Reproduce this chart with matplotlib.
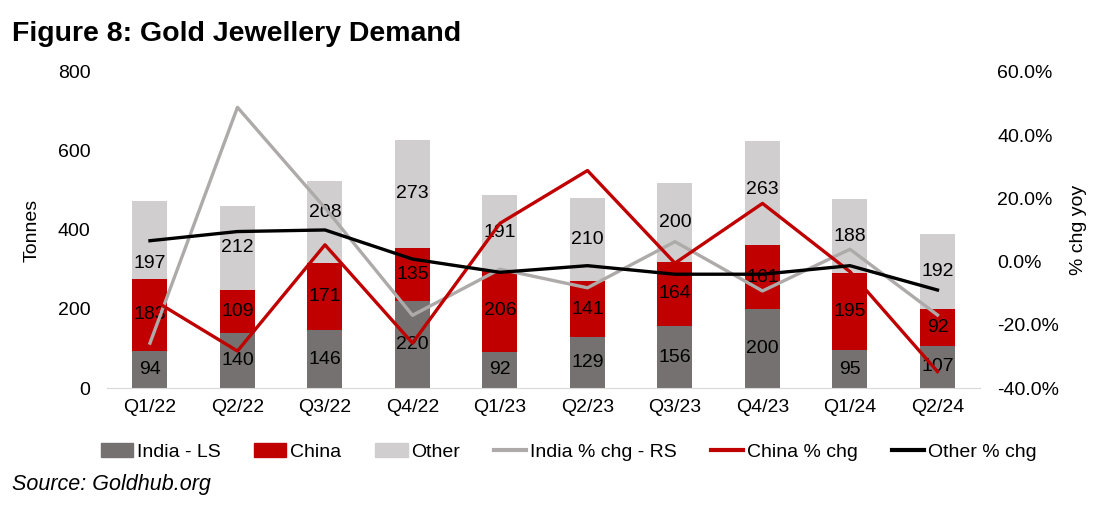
import numpy as np
import matplotlib.pyplot as plt
from matplotlib.lines import Line2D
from matplotlib.patches import Patch

plt.rcParams['font.family'] = ['Liberation Sans', 'DejaVu Sans']

quarters = ['Q1/22', 'Q2/22', 'Q3/22', 'Q4/22', 'Q1/23', 'Q2/23', 'Q3/23', 'Q4/23', 'Q1/24', 'Q2/24']
india = [94, 140, 146, 220, 92, 129, 156, 200, 95, 107]
china = [183, 109, 171, 135, 206, 141, 164, 161, 195, 92]
other = [197, 212, 208, 273, 191, 210, 200, 263, 188, 192]
india_chg = [-25.8, 48.8, 17.0, -17.0, -2.4, -8.3, 6.3, -9.3, 3.9, -16.9]
china_chg = [-11.5, -28.3, 5.3, -25.8, 12.1, 28.8, -0.5, 18.4, -3.2, -34.8]
other_chg = [6.6, 9.5, 10.0, 0.8, -3.4, -1.3, -4.0, -4.0, -1.3, -9.0]

# a few "Other" labels were nudged in the original to avoid the lines
other_label_shift = [-60, 0, 22, 0, 0, 0, 0, 11, 0, 0]

c_india = '#767171'
c_china = '#C00000'
c_other = '#D0CECE'
c_india_line = '#AEAAAA'

fig = plt.figure(figsize=(11.04, 5.09), dpi=100)
ax = fig.add_axes([0.097, 0.2377, 0.791, 0.621])
x = np.arange(len(quarters))
w = 0.4
india_a = np.array(india)
china_a = np.array(china)
other_a = np.array(other)

ax.bar(x, india_a, w, color=c_india, zorder=2)
ax.bar(x, china_a, w, bottom=india_a, color=c_china, zorder=2)
ax.bar(x, other_a, w, bottom=india_a + china_a, color=c_other, zorder=2)

for i in range(len(x)):
    ax.text(x[i], india_a[i] / 2, str(india[i]), ha='center', va='center', fontsize=14, zorder=5)
    ax.text(x[i], india_a[i] + china_a[i] / 2, str(china[i]), ha='center', va='center', fontsize=14, zorder=5)
    ax.text(x[i], india_a[i] + china_a[i] + other_a[i] / 2 + other_label_shift[i], str(other[i]),
            ha='center', va='center', fontsize=14, zorder=5)

ax.set_ylim(0, 800)
ax.set_yticks([0, 200, 400, 600, 800])
ax.set_xlim(-0.49, len(x) - 0.51)
ax.set_xticks(x)
ax.set_xticklabels(quarters)
ax.tick_params(length=0, labelsize=14, pad=8)
ax.tick_params(axis='y', pad=12)
ax.set_ylabel('Tonnes', fontsize=14, labelpad=12)
for s in ['top', 'right', 'left']:
    ax.spines[s].set_visible(False)
ax.spines['bottom'].set_color('#D9D9D9')

ax2 = ax.twinx()
ax2.plot(x, india_chg, color=c_india_line, lw=2.4, zorder=3)
ax2.plot(x, china_chg, color=c_china, lw=2.4, zorder=3)
ax2.plot(x, other_chg, color='black', lw=2.4, zorder=3)
ax2.set_ylim(-40, 60)
ax2.set_yticks([-40, -20, 0, 20, 40, 60])
ax2.set_yticklabels(['-40.0%', '-20.0%', '0.0%', '20.0%', '40.0%', '60.0%'])
ax2.tick_params(length=0, labelsize=14, pad=12)
ax2.set_ylabel('% chg yoy', fontsize=14, labelpad=8)
for s in ['top', 'right', 'left', 'bottom']:
    ax2.spines[s].set_visible(False)

handles = [Patch(color=c_india), Patch(color=c_china), Patch(color=c_other),
           Line2D([], [], color=c_india_line, lw=3), Line2D([], [], color=c_china, lw=3),
           Line2D([], [], color='black', lw=3)]
labels = ['India - LS', 'China', 'Other', 'India % chg - RS', 'China % chg', 'Other % chg']
fig.legend(handles, labels, loc='center', bbox_to_anchor=(0.515, 0.112), ncol=6, frameon=False,
           fontsize=14, handlelength=1.65, handletextpad=0.2, columnspacing=1.75)

fig.text(0.011, 0.92, 'Figure 8: Gold Jewellery Demand', fontsize=20.5, fontweight='bold')
fig.text(0.011, 0.037, 'Source: Goldhub.org', fontsize=15.5, style='italic')

fig.savefig('out.png', dpi=100)
